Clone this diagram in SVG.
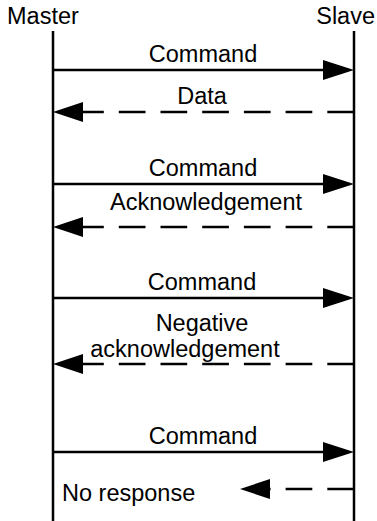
<svg xmlns="http://www.w3.org/2000/svg" width="377" height="521" viewBox="0 0 377 521">
<style>
text{font-family:"Liberation Sans",Arial,sans-serif;font-size:23.5px;fill:#000}
.c{text-anchor:middle}
.life{stroke:#000;stroke-width:2.5;fill:none}
.msg{stroke:#000;stroke-width:2.5;fill:none}
.dash{stroke-dasharray:26.7 15}
.head{fill:#000;stroke:none}
</style>
<rect width="377" height="521" fill="#fff"/>
<g id="master">
<text x="7" y="24">Master</text>
<line class="life" x1="53" y1="31" x2="53" y2="521"/>
</g>
<g id="slave">
<text x="375" y="24" text-anchor="end">Slave</text>
<line class="life" x1="354" y1="31" x2="354" y2="521"/>
</g>
<g id="connectors">
<g id="m1">
<line class="msg" x1="53" y1="70" x2="324" y2="70"/>
<polygon class="head" points="354,70 323,60 323,80"/>
<text class="c" x="203" y="62">Command</text>
</g>
<g id="m2">
<line class="msg dash" x1="354" y1="112" x2="82" y2="112"/>
<polygon class="head" points="53,112 83,102 83,122"/>
<text class="c" x="202" y="104">Data</text>
</g>
<g id="m3">
<line class="msg" x1="53" y1="184" x2="324" y2="184"/>
<polygon class="head" points="354,184 323,174 323,194"/>
<text class="c" x="203" y="176">Command</text>
</g>
<g id="m4">
<line class="msg dash" x1="354" y1="227" x2="82" y2="227"/>
<polygon class="head" points="53,227 83,217 83,237"/>
<text class="c" x="206" y="210">Acknowledgement</text>
</g>
<g id="m5">
<line class="msg" x1="53" y1="298" x2="324" y2="298"/>
<polygon class="head" points="354,298 323,288 323,308"/>
<text class="c" x="202" y="290">Command</text>
</g>
<g id="m6">
<line class="msg dash" x1="354" y1="364" x2="82" y2="364"/>
<polygon class="head" points="53,364 83,354 83,374"/>
<text class="c" x="202" y="331">Negative</text>
<text class="c" x="185" y="357">acknowledgement</text>
</g>
<g id="m7">
<line class="msg" x1="53" y1="452" x2="324" y2="452"/>
<polygon class="head" points="354,452 323,442 323,462"/>
<text class="c" x="203" y="444">Command</text>
</g>
<g id="m8">
<line class="msg dash" x1="354" y1="489" x2="270" y2="489"/>
<polygon class="head" points="240,489 270,479 270,499"/>
<text x="62" y="501">No response</text>
</g>
</g>
</svg>
